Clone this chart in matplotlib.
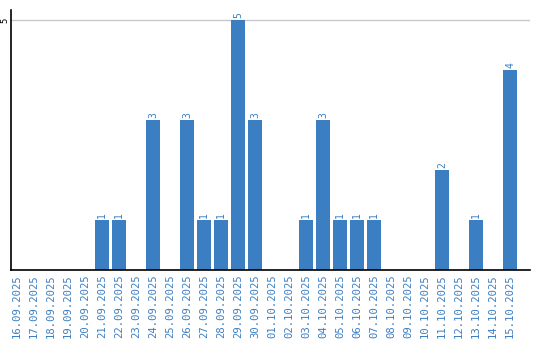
import matplotlib
matplotlib.use("Agg")
import matplotlib.pyplot as plt

# Daily counts, 16.09.2025 - 15.10.2025
dates = ["16.09.2025", "17.09.2025", "18.09.2025", "19.09.2025", "20.09.2025",
         "21.09.2025", "22.09.2025", "23.09.2025", "24.09.2025", "25.09.2025",
         "26.09.2025", "27.09.2025", "28.09.2025", "29.09.2025", "30.09.2025",
         "01.10.2025", "02.10.2025", "03.10.2025", "04.10.2025", "05.10.2025",
         "06.10.2025", "07.10.2025", "08.10.2025", "09.10.2025", "10.10.2025",
         "11.10.2025", "12.10.2025", "13.10.2025", "14.10.2025", "15.10.2025"]
counts = [0, 0, 0, 0, 0,
          1, 1, 0, 3, 0,
          3, 1, 1, 5, 3,
          0, 0, 1, 3, 1,
          1, 1, 0, 0, 0,
          2, 0, 1, 0, 4]

blue = "#3b7ec2"

fig = plt.figure(figsize=(5.4, 3.4), dpi=100)
ax = fig.add_axes([11 / 540, 70 / 340, 519 / 540, 260 / 340])

x = list(range(len(dates)))
ax.bar(x, counts, width=14 / 17, color=blue, zorder=2)

# value labels above non-empty bars
for xi, c in zip(x, counts):
    if c > 0:
        ax.text(xi, c + 0.04, str(c), rotation=90, ha="center", va="bottom",
                color=blue, fontsize=7, family="DejaVu Sans Mono")

ax.set_xlim(-6 / 17, 29 + 20 / 17)
ax.set_ylim(0, 5.2)
ax.set_xticks(x)
ax.set_xticklabels(dates, rotation=90, color=blue, fontsize=7.6,
                   family="DejaVu Sans Mono", va="top")
ax.set_yticks([5])
ax.set_yticklabels(["5"], rotation=90, fontsize=6.5, family="DejaVu Sans Mono",
                   va="center", ha="right")
ax.tick_params(axis="both", length=0, pad=3)
ax.tick_params(axis="y", pad=1)

ax.yaxis.grid(True, color="#c8c8c8", linewidth=1, zorder=0)
ax.spines["top"].set_visible(False)
ax.spines["right"].set_visible(False)
for s in ("left", "bottom"):
    ax.spines[s].set_color("black")
    ax.spines[s].set_linewidth(1.2)

fig.savefig("out.png", dpi=100)
